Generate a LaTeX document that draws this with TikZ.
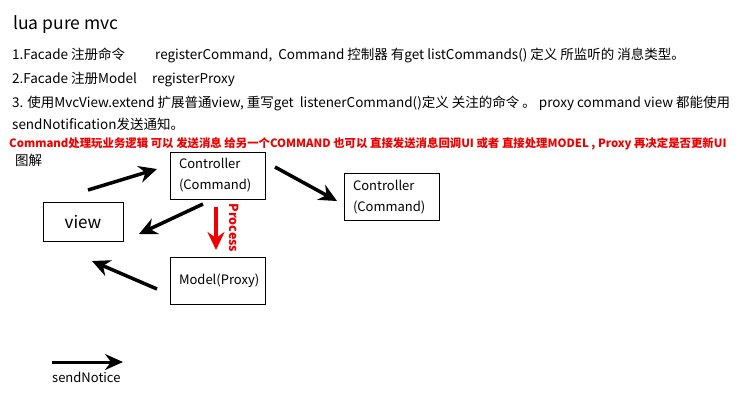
\documentclass[tikz,border=0pt]{standalone}
\usepackage{fontspec}
\setmainfont{Noto Sans CJK SC}
\usetikzlibrary{arrows.meta}
\definecolor{redtxt}{RGB}{240,0,0}
\tikzset{
  txt/.style={anchor=base west, inner sep=0pt, font=\fontsize{13.5}{16}\selectfont},
  box/.style={draw=black, line width=1pt, minimum width=95pt, minimum height=47pt, inner sep=0pt},
  boxtxt/.style={font=\fontsize{13}{21}\selectfont, align=left},
  arr/.style={line width=3.5pt, -{Stealth[length=18pt,width=17pt,inset=6pt]}},
}
\begin{document}
\begin{tikzpicture}[x=1pt,y=-1pt]
\useasboundingbox (0,0) rectangle (750,400);
\node[txt, font=\fontsize{17.5}{22}\selectfont] (title) at (13,29) {lua pure mvc};
\node[txt] (l1a) at (12,59) {1.Facade 注册命令};
\node[txt] (l1b) at (155,59) {registerCommand,\ \ Command 控制器 有get listCommands() 定义 所监听的 消息类型。};
\node[txt] (l2a) at (12,83) {2.Facade 注册Model};
\node[txt] (l2b) at (152,83) {registerProxy};
\node[txt] (l3) at (12,107) {3. 使用MvcView.extend 扩展普通view, 重写get\ \ listenerCommand()定义 关注的命令 。 proxy command view 都能使用};
\node[txt] (l4) at (12,129) {sendNotification发送通知。};
\node[txt, text=redtxt, font=\fontsize{11.4}{14}\selectfont\bfseries] (red) at (9,147) {Command处理玩业务逻辑 可以 发送消息 给另一个COMMAND 也可以 直接发送消息回调UI 或者 直接处理MODEL , Proxy 再决定是否更新UI};
\node[txt] (tujie) at (15,165) {图解};

\node[box, minimum width=80pt, minimum height=39pt, font=\fontsize{17}{20}\selectfont] (view) at (83,222) {view};
\node[box] (c1) at (217.5,175.5) {};
\node[boxtxt, anchor=west] at (c1.west) [xshift=6pt] {Controller\\(Command)};
\node[box] (c2) at (391.5,197) {};
\node[boxtxt, anchor=west] at (c2.west) [xshift=6pt] {Controller\\(Command)};
\node[box] (model) at (217.5,280.5) {};
\node[boxtxt, anchor=west] at (model.west) [xshift=6pt] {Model(Proxy)};

\coordinate (a1s) at (88,190);
\coordinate (a1e) at (157,169);
\coordinate (a2s) at (275,167);
\coordinate (a2e) at (337,201);
\coordinate (a3s) at (203,204);
\coordinate (a3e) at (139,234);
\coordinate (a4s) at (157,289);
\coordinate (a4e) at (92,261);
\coordinate (a5s) at (216,207);
\coordinate (a5e) at (216,250);
\draw[arr] (a1s) -- (a1e);
\draw[arr] (a2s) -- (a2e);
\draw[arr] (a3s) -- (a3e);
\draw[arr] (a4s) -- (a4e);
\draw[arr, draw=redtxt, fill=redtxt] (a5s) -- (a5e);
\node[rotate=-90, text=redtxt, font=\fontsize{12.5}{14}\selectfont\bfseries, inner sep=0pt] (proc) at (234,228) {Process};

\coordinate (ls) at (52,362);
\coordinate (le) at (123,362);
\draw[line width=3pt, -{Stealth[length=18pt,width=16pt,inset=6pt]}] (ls) -- (le);
\node[txt, font=\fontsize{13}{16}\selectfont] (legend) at (52,382) {sendNotice};
\end{tikzpicture}
\end{document}
